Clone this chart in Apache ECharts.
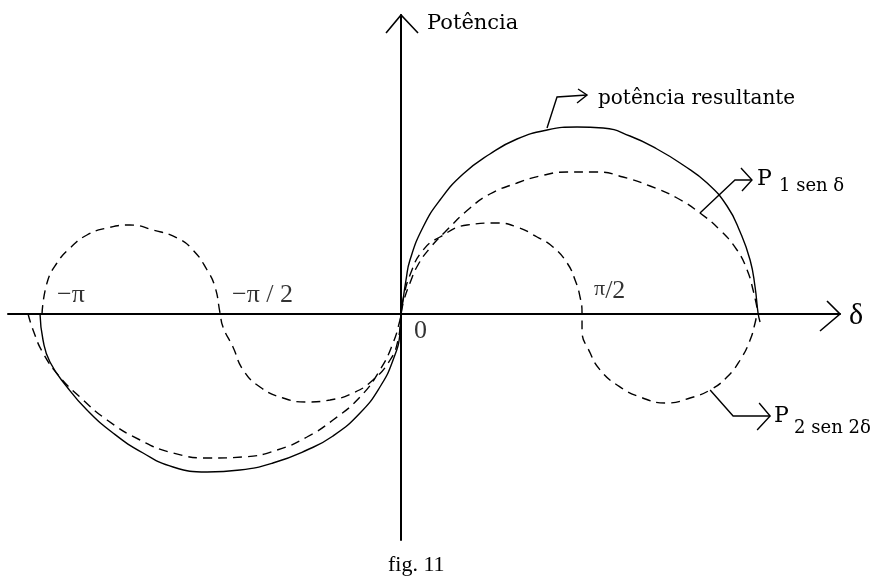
<!DOCTYPE html>
<html>
<head>
<meta charset="utf-8">
<script src="https://cdn.jsdelivr.net/npm/echarts@6/dist/echarts.min.js"></script>
<style>
  html, body { margin: 0; padding: 0; background: #ffffff; }
  #chart { width: 882px; height: 582px; }
</style>
</head>
<body>
<div id="chart"></div>
<script>
// δ em graus (eixo horizontal), potência em unidades arbitrárias (eixo vertical)
const potenciaResultante = [
  [-181.5, 0], [-180.0, -0.26], [-176.5, -0.48], [-167.9, -0.73], [-157.9, -0.96],
  [-144.8, -1.19], [-129.7, -1.39], [-114.6, -1.53], [-97.5, -1.58], [-81.0, -1.56],
  [-64.4, -1.49], [-47.3, -1.36], [-34.2, -1.22], [-20.6, -0.99], [-10.6, -0.73],
  [-4.0, -0.46], [-0.5, -0.19], [0, 0], [1.0, 0.14], [2.5, 0.34], [4.5, 0.54],
  [11.1, 0.87], [19.6, 1.14], [31.2, 1.40], [44.7, 1.60], [58.3, 1.75], [73.4, 1.84],
  [88.5, 1.87], [101.6, 1.86], [115.1, 1.78], [128.7, 1.65], [141.8, 1.49],
  [153.9, 1.31], [163.9, 1.08], [170.5, 0.82], [175.5, 0.54], [178.0, 0.27],
  [179.5, 0.01], [180.5, -0.08]
];

const p1SenDelta = [
  [-187.5, 0], [-185.0, -0.16], [-180.0, -0.39], [-171.5, -0.63], [-161.4, -0.83],
  [-147.8, -1.06], [-131.2, -1.26], [-114.6, -1.39], [-96.0, -1.44], [-79.4, -1.43],
  [-62.3, -1.36], [-47.3, -1.23], [-34.2, -1.06], [-20.6, -0.83], [-10.6, -0.56],
  [-4.0, -0.29], [-0.5, -0.06], [0, 0], [1.5, 0.14], [4.5, 0.31], [8.5, 0.49],
  [14.6, 0.66], [22.1, 0.82], [34.7, 1.06], [44.7, 1.20], [58.3, 1.31], [69.9, 1.38],
  [83.5, 1.42], [98.5, 1.42], [111.6, 1.37], [125.2, 1.28], [138.8, 1.16],
  [150.3, 1.01], [160.4, 0.84], [168.9, 0.64], [174.0, 0.44], [177.0, 0.24],
  [179.5, 0.01]
];

const p2Sen2Delta = [
  [-180.5, 0], [-178.0, 0.31], [-173.0, 0.51], [-166.4, 0.66], [-157.9, 0.79],
  [-147.8, 0.86], [-136.3, 0.89], [-124.7, 0.84], [-112.6, 0.76], [-104.6, 0.64],
  [-97.5, 0.44], [-93.5, 0.27], [-91.0, 0.01], [-89.5, -0.13], [-84.5, -0.33],
  [-79.4, -0.56], [-70.9, -0.73], [-59.3, -0.84], [-47.3, -0.88], [-35.7, -0.86],
  [-24.1, -0.79], [-14.1, -0.66], [-5.5, -0.46], [-1.5, -0.26], [0, 0],
  [1.0, 0.14], [4.5, 0.39], [11.1, 0.64], [19.6, 0.77], [33.2, 0.89], [48.3, 0.91],
  [58.3, 0.87], [68.4, 0.77], [76.4, 0.67], [83.5, 0.51], [87.5, 0.34], [90.0, 0.17],
  [91.0, 0.01], [91.0, -0.16], [95.1, -0.39], [100.1, -0.56], [108.6, -0.71],
  [120.2, -0.83], [133.7, -0.89], [145.3, -0.84], [155.4, -0.76], [163.9, -0.63],
  [170.5, -0.46], [175.5, -0.26], [178.0, -0.09], [179.0, 0.01]
];

// marcas do eixo δ e seus rótulos
const tickValues = [-180, -90, 0, 90];
const tickLabels = ['−π', '−π / 2', '0', 'π/2'];

// nomes das curvas e dos eixos
const seriesNames = ['potência resultante', 'P1 sen δ', 'P2 sen 2δ'];
const axisNames = ['δ', 'Potência'];
const figureCaption = 'fig. 11';

// ---------------------------------------------------------------------------
const INK = '#000000';
const X_MIN = -197.6, X_MAX = 220.7;
const Y_MIN = -2.26, Y_MAX = 2.99;
const serifTimes = '"Liberation Serif", "Times New Roman", serif';
const serifSlab = '"DejaVu Serif", serif';

// posição de cada rótulo de marca relativa ao ponto (δ, 0)
const tickLabelStyle = [
  { offset: [14, -19], rich: null },
  { offset: [10, -19], rich: null },
  { offset: [13, 17], rich: null },
  { offset: [14, -23], rich: 'pi' }
];

const tickData = tickValues.map((v, i) => {
  const st = tickLabelStyle[i];
  let text = tickLabels[i];
  if (st.rich === 'pi') {
    const parts = text.split('/');
    text = '{pi|' + parts[0] + '}{n|/' + parts[1] + '}';
  }
  return {
    value: [v, 0],
    label: {
      show: true,
      position: st.offset,
      align: 'left',
      verticalAlign: 'middle',
      color: INK,
      formatter: text
    }
  };
});

const curveLine = (dashed) => ({
  color: INK,
  width: 1.4,
  type: dashed ? [9, 6] : 'solid'
});

const option = {
  animation: false,
  backgroundColor: '#ffffff',
  title: {
    text: figureCaption,
    left: 383,
    top: 549,
    textStyle: { fontFamily: serifTimes, fontSize: 22, fontWeight: 'normal', color: INK }
  },
  grid: { left: 8, right: 42, top: 15, bottom: 42, containLabel: false },
  xAxis: {
    type: 'value', min: X_MIN, max: X_MAX,
    axisLine: { show: true, onZero: true, lineStyle: { color: INK, width: 2 } },
    axisTick: { show: false }, axisLabel: { show: false }, splitLine: { show: false }
  },
  yAxis: {
    type: 'value', min: Y_MIN, max: Y_MAX,
    axisLine: { show: true, onZero: true, lineStyle: { color: INK, width: 2 } },
    axisTick: { show: false }, axisLabel: { show: false }, splitLine: { show: false }
  },
  series: [
    {
      name: seriesNames[0], type: 'line', data: potenciaResultante,
      smooth: 0.5, showSymbol: false, lineStyle: curveLine(false), z: 3
    },
    {
      name: seriesNames[1], type: 'line', data: p1SenDelta,
      smooth: 0.5, showSymbol: false, lineStyle: curveLine(true), z: 3
    },
    {
      name: seriesNames[2], type: 'line', data: p2Sen2Delta,
      smooth: 0.5, showSymbol: false, lineStyle: curveLine(true), z: 3
    },
    {
      name: 'rótulos', type: 'scatter', data: tickData,
      symbolSize: 0, silent: true, z: 4,
      label: {
        show: true, color: INK, fontFamily: serifTimes, fontSize: 26,
        rich: {
          pi: { fontFamily: serifTimes, fontSize: 22, color: INK, verticalAlign: 'top' },
          n: { fontFamily: serifTimes, fontSize: 26, color: INK }
        }
      }
    }
  ]
};

const chart = echarts.init(document.getElementById('chart'));
chart.setOption(option);

// setas abertas, linhas de chamada e textos das curvas
const toPx = (p) => chart.convertToPixel({ gridIndex: 0 }, p);
const shift = (p, d) => [p[0] + d[0], p[1] + d[1]];

function stroke(points) {
  return {
    type: 'polyline', silent: true, z: 10,
    shape: { points: points },
    style: { stroke: INK, lineWidth: 1.4, fill: null }
  };
}
function chevron(tip, armA, armB, width) {
  const g = stroke([shift(tip, armA), tip, shift(tip, armB)]);
  g.style.lineWidth = width || 1.4;
  return g;
}
function label(text, pos, font) {
  return {
    type: 'text', silent: true, z: 10, x: pos[0], y: pos[1],
    style: { text: text, font: font, fill: INK, textAlign: 'left', textVerticalAlign: 'middle' }
  };
}

const xEnd = toPx([X_MAX, 0]);
const yEnd = toPx([0, Y_MAX]);

// chamadas: ponto na curva + deslocamentos do traçado
const callouts = [
  { anchor: potenciaResultante[26], path: [[0, -2], [10, -33], [40, -35]],
    arms: [[-9, -6], [-10, 8]],
    texts: [{ t: seriesNames[0], d: [11, 4], f: '20px ' + serifSlab }] },
  { anchor: p1SenDelta[32], path: [[0, 0], [35, -33], [52, -33]],
    arms: [[-11, -12], [-10, 11]],
    texts: [{ t: 'P', d: [5, -1], f: '22px ' + serifSlab },
            { t: '1 sen δ', d: [27, 6], f: '18px ' + serifSlab }] },
  { anchor: p2Sen2Delta[45], path: [[0, 0], [23, 26], [60, 26]],
    arms: [[-11, -13], [-13, 14]],
    texts: [{ t: 'P', d: [4, 0], f: '22px ' + serifSlab },
            { t: '2 sen 2δ', d: [24, 12], f: '18px ' + serifSlab }] }
];

const graphics = [
  chevron(xEnd, [-13, -13], [-20, 17], 1.6),
  chevron(yEnd, [-15, 18], [17, 18], 1.6),
  label(axisNames[0], [xEnd[0] + 9, xEnd[1] + 2], '30px ' + serifTimes),
  label(axisNames[1], [yEnd[0] + 26, yEnd[1] + 9], '21px ' + serifSlab)
];

callouts.forEach((c) => {
  const a = toPx(c.anchor);
  const pts = c.path.map((d) => shift(a, d));
  graphics.push(stroke(pts));
  const tip = pts[pts.length - 1];
  graphics.push(chevron(tip, c.arms[0], c.arms[1]));
  c.texts.forEach((tx) => graphics.push(label(tx.t, shift(tip, tx.d), tx.f)));
});

chart.setOption({ graphic: graphics });
</script>
</body>
</html>
